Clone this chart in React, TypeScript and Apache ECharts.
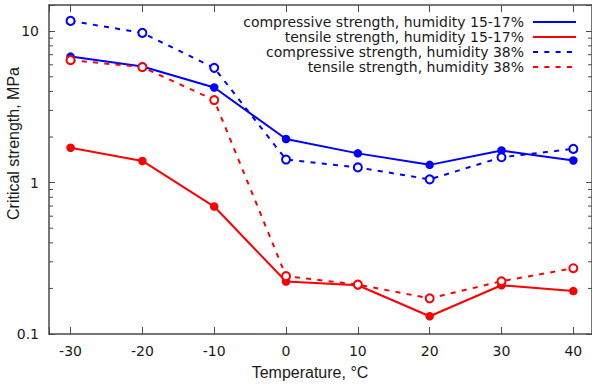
import React, { useEffect, useRef } from "react";
import * as echarts from "echarts";

const temperatures = [-30, -20, -10, 0, 10, 20, 30, 40];
const compressive1517 = [6.8, 5.85, 4.25, 1.94, 1.56, 1.31, 1.63, 1.4];
const tensile1517 = [1.7, 1.39, 0.695, 0.222, 0.21, 0.131, 0.21, 0.192];
const compressive38 = [11.7, 9.75, 5.73, 1.42, 1.26, 1.05, 1.47, 1.67];
const tensile38 = [6.44, 5.79, 3.51, 0.241, 0.212, 0.172, 0.223, 0.272];
const seriesNames = [
  "compressive strength, humidity 15-17%",
  "tensile strength, humidity 15-17%",
  "compressive strength, humidity 38%",
  "tensile strength, humidity 38%",
];
const yMajorTicks = [0.1, 1, 10];
const yMinorTicks = [0.2, 0.3, 0.4, 0.5, 0.6, 0.7, 0.8, 0.9, 2, 3, 4, 5, 6, 7, 8, 9];
const xTickLabels = [-30, -20, -10, 0, 10, 20, 30, 40];

const X_MIN = -33;
const X_MAX = 42.6;
const Y_MIN = 0.1;
const Y_MAX = 14.9;

const BLUE = "#0000ff";
const RED = "#ff0000";
const AXIS = "#4a4a4a";
const TEXT = "#1a1a1a";
const DASH = [5, 6.3];

function pairs(vals: number[]) {
  return temperatures.map((t, i) => [t, vals[i]]);
}

export default function App() {
  const ref = useRef<HTMLDivElement>(null);
  useEffect(() => {
    if (!ref.current) return;
    const chart = echarts.init(ref.current, undefined, { renderer: "svg" });
    const lineSeries = (
      name: string,
      vals: number[],
      color: string,
      dashed: boolean
    ) => ({
      name,
      type: "line",
      data: pairs(vals),
      symbol: dashed ? "emptyCircle" : "circle",
      symbolSize: dashed ? 8 : 8.5,
      showAllSymbol: true,
      lineStyle: { color, width: 2, type: dashed ? DASH : "solid" },
      itemStyle: {
        color,
        borderColor: color,
        borderWidth: dashed ? 1 : 0,
      },
      emphasis: { disabled: true },
      silent: true,
    });
    const xAxisBase = {
      type: "value",
      min: X_MIN,
      max: X_MAX,
      splitNumber: 8,
      splitLine: { show: false },
      axisLine: { show: true, onZero: false, lineStyle: { color: AXIS, width: 1.5 } },
      axisTick: { show: true, inside: true, length: 7, lineStyle: { color: AXIS, width: 1 } },
    };
    const yAxisBase = {
      type: "log",
      logBase: 10,
      min: Y_MIN,
      max: Y_MAX,
      splitLine: { show: false },
      axisLine: { show: true, onZero: false, lineStyle: { color: AXIS, width: 1.5 } },
      axisTick: { show: true, inside: true, length: 6, lineStyle: { color: AXIS, width: 1 } },
    };
    chart.setOption({
      animation: false,
      grid: { left: 49, top: 5, right: 0, bottom: 51, containLabel: false, outerBoundsMode: "none" },
      xAxis: [
        {
          ...xAxisBase,
          position: "bottom",
          axisLabel: {
            margin: 10,
            fontFamily: "DejaVu Sans",
            fontSize: 14,
            color: TEXT,
            formatter: (v: number) => (xTickLabels.includes(Math.round(v * 1000) / 1000) ? String(v) : ""),
          },
        },
        { ...xAxisBase, position: "top", axisLabel: { show: false } },
      ],
      yAxis: [
        {
          ...yAxisBase,
          position: "left",
          axisLabel: {
            margin: 10,
            fontFamily: "DejaVu Sans",
            fontSize: 14,
            color: TEXT,
            formatter: (v: number) => {
              const m = yMajorTicks.find((t) => Math.abs(t - v) / t < 1e-6);
              return m === undefined ? "" : String(m);
            },
          },
        },
        { ...yAxisBase, position: "right", axisLabel: { show: false } },
      ],
      legend: {
        orient: "vertical",
        right: 10,
        top: 10,
        align: "right",
        itemWidth: 43,
        itemHeight: 14,
        itemGap: 1,
        data: seriesNames,
        selectedMode: false,
        itemStyle: { opacity: 0 },
        textStyle: { fontFamily: "DejaVu Sans", fontSize: 14, color: TEXT, padding: [0, 4, 0, 0] },
      },
      graphic: [
        {
          type: "text",
          x: 310,
          y: 372,
          style: {
            text: "Temperature, °C",
            fontFamily: "Liberation Sans",
            fontSize: 16,
            fill: TEXT,
            align: "center",
            verticalAlign: "middle",
          },
        },
        {
          type: "text",
          x: 13.5,
          y: 143.5,
          rotation: Math.PI / 2,
          style: {
            text: "Critical strength, MPa",
            fontFamily: "Liberation Sans",
            fontSize: 16,
            fill: TEXT,
            align: "center",
            verticalAlign: "middle",
          },
        },
      ],
      series: [
        {
          type: "custom",
          silent: true,
          xAxisIndex: 0,
          yAxisIndex: 0,
          data: yMinorTicks.map((v) => [X_MIN, v]),
          encode: { x: 0, y: 1 },
          clip: false,
          renderItem: (params: any, api: any) => {
            const y = api.coord([X_MIN, api.value(1)])[1];
            const cs = params.coordSys;
            return {
              type: "group",
              children: [
                {
                  type: "line",
                  shape: { x1: cs.x, y1: y, x2: cs.x + 4, y2: y },
                  style: { stroke: AXIS, lineWidth: 1 },
                },
                {
                  type: "line",
                  shape: { x1: cs.x + cs.width - 4, y1: y, x2: cs.x + cs.width, y2: y },
                  style: { stroke: AXIS, lineWidth: 1 },
                },
              ],
            };
          },
        },
        lineSeries(seriesNames[0], compressive1517, BLUE, false),
        lineSeries(seriesNames[1], tensile1517, RED, false),
        lineSeries(seriesNames[2], compressive38, BLUE, true),
        lineSeries(seriesNames[3], tensile38, RED, true),
      ],
    });
    return () => chart.dispose();
  }, []);
  return (
    <div
      ref={ref}
      style={{ position: "fixed", left: 0, top: 0, width: 592, height: 385, background: "#ffffff" }}
    />
  );
}
